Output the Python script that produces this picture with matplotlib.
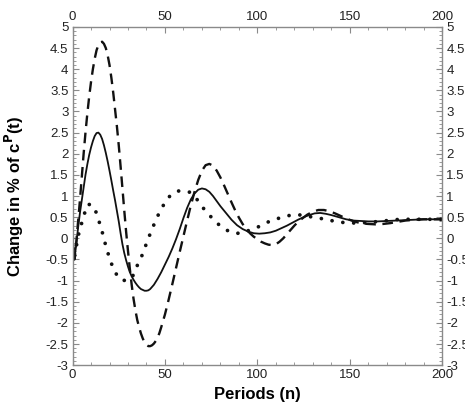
import matplotlib
matplotlib.use("Agg")
import matplotlib.pyplot as plt
from matplotlib.ticker import MultipleLocator, FormatStrFormatter

plt.rcParams['font.family'] = ['Liberation Sans', 'DejaVu Sans']

# solid line
solid_x = [0, 0.5, 1, 2, 3, 4, 5, 6, 7, 8, 9, 10, 11, 12, 13, 14, 15, 16, 17, 18,
           19, 20, 21, 22, 23, 24, 25, 26, 27, 28, 29, 30, 31, 32, 33, 34, 35, 36,
           37, 38, 39, 40, 41, 42, 44, 46, 48, 50, 52, 54, 56, 58, 60, 62, 64, 66,
           68, 70, 72, 74, 76, 78, 80, 83, 86, 89, 92, 95, 98, 101, 104, 107, 110,
           113, 116, 119, 122, 125, 128, 131, 134, 137, 140, 144, 148, 152, 156,
           160, 165, 170, 175, 180, 185, 190, 195, 200]
solid_y = [0, -0.3, -0.5, -0.15, 0.25, 0.6, 0.9, 1.2, 1.5, 1.75, 1.97, 2.15, 2.3,
           2.42, 2.49, 2.5, 2.45, 2.35, 2.2, 2.02, 1.82, 1.6, 1.37, 1.13, 0.9, 0.65,
           0.4, 0.12, -0.14, -0.35, -0.52, -0.67, -0.8, -0.9, -0.98, -1.05, -1.11,
           -1.16, -1.2, -1.22, -1.24, -1.24, -1.23, -1.2, -1.1, -0.96, -0.8, -0.62,
           -0.44, -0.24, -0.02, 0.22, 0.48, 0.72, 0.92, 1.06, 1.15, 1.18, 1.16, 1.1,
           1.0, 0.88, 0.76, 0.6, 0.44, 0.31, 0.22, 0.16, 0.12, 0.11, 0.12, 0.14,
           0.18, 0.24, 0.3, 0.37, 0.44, 0.5, 0.55, 0.59, 0.6, 0.58, 0.55, 0.5, 0.45,
           0.42, 0.41, 0.4, 0.4, 0.41, 0.42, 0.43, 0.44, 0.45, 0.45, 0.45]

# dashed line
dash_x = [0, 0.5, 1, 2, 3, 4, 5, 6, 7, 8, 9, 10, 11, 12, 13, 14, 15, 16, 17, 18,
          19, 20, 21, 22, 23, 24, 25, 26, 27, 28, 29, 30, 31, 32, 33, 34, 35, 36,
          37, 38, 39, 40, 41, 42, 43, 44, 45, 46, 47, 48, 50, 52, 54, 56, 58, 60,
          62, 64, 66, 68, 70, 72, 74, 76, 78, 80, 82, 84, 86, 88, 90, 92, 94, 96,
          98, 100, 102, 104, 106, 108, 110, 112, 114, 116, 118, 120, 122, 124,
          127, 130, 133, 136, 139, 142, 145, 148, 151, 154, 157, 160, 164, 168,
          172, 176, 180, 185, 190, 195, 200]
dash_y = [0, -0.3, -0.5, -0.1, 0.4, 0.9, 1.45, 2.0, 2.5, 2.95, 3.35, 3.7, 4.0, 4.25,
          4.45, 4.57, 4.63, 4.65, 4.6, 4.5, 4.33, 4.1, 3.8, 3.45, 3.05, 2.65, 2.2,
          1.7, 1.18, 0.65, 0.15, -0.3, -0.72, -1.1, -1.43, -1.7, -1.93, -2.1, -2.25,
          -2.37, -2.46, -2.52, -2.55, -2.55, -2.53, -2.49, -2.43, -2.35, -2.24,
          -2.1, -1.8, -1.45, -1.08, -0.7, -0.32, 0.05, 0.42, 0.78, 1.1, 1.38, 1.6,
          1.73, 1.76, 1.72, 1.6, 1.44, 1.25, 1.05, 0.85, 0.66, 0.49, 0.34, 0.22,
          0.12, 0.04, -0.02, -0.08, -0.12, -0.15, -0.16, -0.14, -0.08, 0.0, 0.1,
          0.2, 0.3, 0.39, 0.46, 0.56, 0.63, 0.67, 0.67, 0.64, 0.59, 0.53, 0.47,
          0.42, 0.38, 0.35, 0.34, 0.33, 0.34, 0.36, 0.39, 0.42, 0.44, 0.45, 0.45,
          0.45]

# dotted line
dot_x = [0, 1, 3, 5.5, 8, 10, 12, 14, 16, 18, 20, 22, 25, 29, 32.5, 34.7, 37, 39,
         41, 43, 45, 47, 50, 53, 57, 61, 63, 66, 68, 71, 74, 77, 80, 84, 88, 92,
         96, 100, 104, 108, 112, 116, 120, 124, 130, 137, 143, 150, 159, 168, 177,
         188, 200]
dot_y = [0, -0.46, 0.05, 0.45, 0.8, 0.8, 0.71, 0.45, 0.16, -0.18, -0.47, -0.71,
         -0.95, -1.01, -0.9, -0.67, -0.47, -0.24, 0, 0.21, 0.43, 0.61, 0.85, 1.02,
         1.12, 1.11, 1.1, 1.0, 0.88, 0.7, 0.55, 0.41, 0.29, 0.18, 0.12, 0.12, 0.2,
         0.26, 0.35, 0.43, 0.48, 0.53, 0.56, 0.55, 0.5, 0.45, 0.39, 0.36, 0.37,
         0.41, 0.45, 0.45, 0.45]

fig = plt.figure(figsize=(4.65, 4.08), dpi=100)
ax = fig.add_axes([0.156, 0.105, 0.795, 0.829])

ax.plot(dash_x, dash_y, color='#111111', lw=1.7, linestyle=(0, (4.5, 2.8)))
ax.plot(solid_x, solid_y, color='#111111', lw=1.3)
ax.plot(dot_x, dot_y, color='#111111', lw=2.7, linestyle=(0, (0.01, 2.9)),
        dash_capstyle='round')

ax.set_xlim(0, 200)
ax.set_ylim(-3, 5)
ax.xaxis.set_major_locator(MultipleLocator(50))
ax.xaxis.set_minor_locator(MultipleLocator(10))
ax.yaxis.set_major_locator(MultipleLocator(0.5))
ax.yaxis.set_minor_locator(MultipleLocator(0.1))
ax.yaxis.set_major_formatter(FormatStrFormatter('%g'))

gray = '#8a8a8a'
for s in ax.spines.values():
    s.set_color(gray)
    s.set_linewidth(1.0)
ax.tick_params(which='both', direction='in', top=True, right=True,
               labeltop=True, labelright=True, color=gray,
               labelcolor='#222222', labelsize=9.5, pad=3)
ax.tick_params(which='major', length=4)
ax.tick_params(which='minor', length=2)

ax.set_xlabel('Periods (n)', fontsize=12, fontweight='bold', labelpad=4)
ax.set_ylabel('Change in % of c$^{\\mathsf{\\mathbf{P}}}$(t)', fontsize=12,
              fontweight='bold')
ax.yaxis.set_label_coords(-0.125, 0.5)

fig.savefig('out.png', dpi=100)
